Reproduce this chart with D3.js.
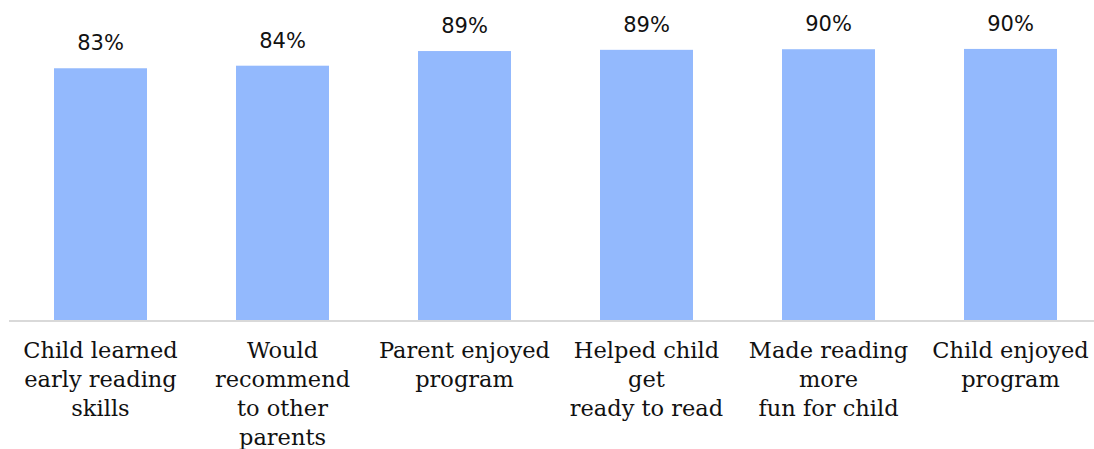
<!DOCTYPE html>
<html>
<head>
<meta charset="utf-8">
<script src="https://cdn.jsdelivr.net/npm/d3@7"></script>
<style>
  html, body { margin: 0; padding: 0; background: #fff; }
  svg { display: block; }
</style>
</head>
<body>
<svg id="chart" width="1094" height="449"></svg>
<script>
const categories = [
  "Child learned\nearly reading\nskills",
  "Would\nrecommend\nto other\nparents",
  "Parent enjoyed\nprogram",
  "Helped child\nget\nready to read",
  "Made reading\nmore\nfun for child",
  "Child enjoyed\nprogram"
];
const values = [0.833, 0.8415, 0.890, 0.894, 0.896, 0.897];

const svg = d3.select("#chart");
const baseY = 320;

const x = d3.scaleBand()
  .domain(categories)
  .range([9.5, 1101.5])
  .paddingInner(0.489)
  .paddingOuter(0.2445);

const y = d3.scaleLinear()
  .domain([0, 1])
  .range([baseY, baseY - 302.2]);

const fmt = d3.format(".0%");

svg.append("g").selectAll("rect")
  .data(values)
  .join("rect")
  .attr("x", (d, i) => x(categories[i]))
  .attr("y", d => y(d))
  .attr("width", x.bandwidth())
  .attr("height", d => baseY - y(d))
  .attr("fill", "#93b9fd");

svg.append("g").selectAll("text")
  .data(values)
  .join("text")
  .attr("x", (d, i) => x(categories[i]) + x.bandwidth() / 2)
  .attr("y", d => y(d) - 18)
  .attr("text-anchor", "middle")
  .attr("font-family", "DejaVu Sans, Verdana, sans-serif")
  .attr("font-size", 21)
  .attr("fill", "#111")
  .text(d => fmt(d));

// axis baseline
const xAxis = d3.axisBottom(x).tickSize(0).tickFormat("");
const axisG = svg.append("g")
  .attr("transform", `translate(0,${baseY + 1})`)
  .call(xAxis);
axisG.select(".domain")
  .attr("d", "M9,0H1094")
  .attr("stroke", "#d9d9d9")
  .attr("stroke-width", 2);

// category labels
const lab = svg.append("g").selectAll("text")
  .data(categories)
  .join("text")
  .attr("x", d => x(d) + x.bandwidth() / 2)
  .attr("y", 358)
  .attr("text-anchor", "middle")
  .attr("font-family", "DejaVu Serif, serif")
  .attr("font-size", 22.5)
  .attr("fill", "#111");
lab.each(function(d) {
  const lines = d.split("\n");
  d3.select(this).selectAll("tspan")
    .data(lines)
    .join("tspan")
    .attr("x", x(d) + x.bandwidth() / 2)
    .attr("dy", (l, i) => i === 0 ? 0 : 29)
    .text(l => l);
});
</script>
</body>
</html>
